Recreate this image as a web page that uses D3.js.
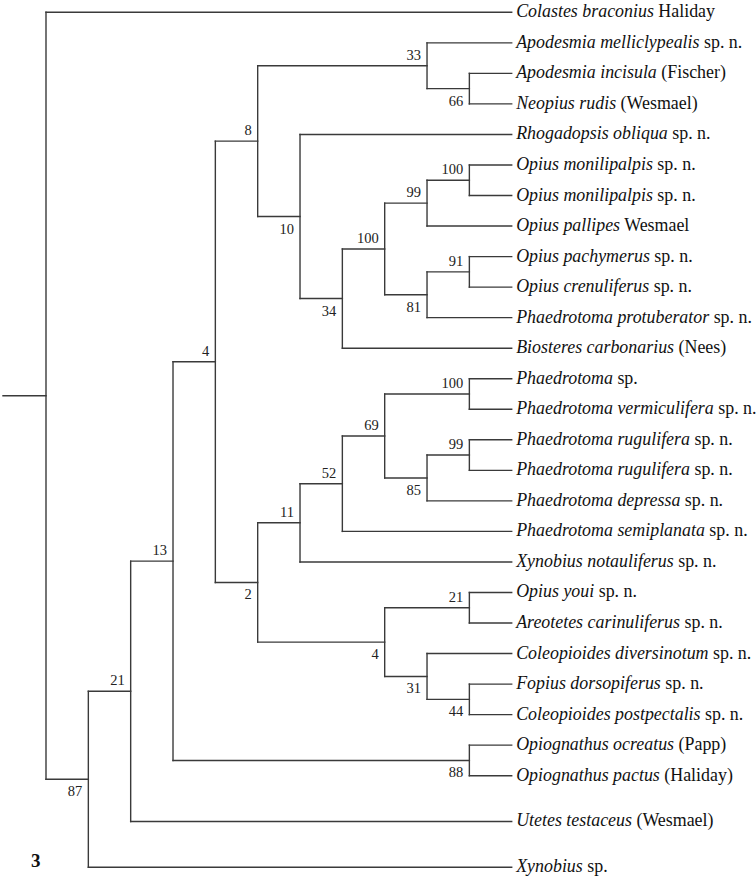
<!DOCTYPE html>
<html>
<head>
<meta charset="utf-8">
<script src="https://cdn.jsdelivr.net/npm/d3@7"></script>
<style>
  html, body { margin: 0; padding: 0; background: #fff; }
  svg { display: block; }
</style>
</head>
<body>
<svg id="chart" width="756" height="879"></svg>
<script>
// Leaf labels in tree order: [italic name, roman authority]
const leafNames = [
  ["Colastes braconius", "Haliday"],
  ["Apodesmia melliclypealis", "sp. n."],
  ["Apodesmia incisula", "(Fischer)"],
  ["Neopius rudis", "(Wesmael)"],
  ["Rhogadopsis obliqua", "sp. n."],
  ["Opius monilipalpis", "sp. n."],
  ["Opius monilipalpis", "sp. n."],
  ["Opius pallipes", "Wesmael"],
  ["Opius pachymerus", "sp. n."],
  ["Opius crenuliferus", "sp. n."],
  ["Phaedrotoma protuberator", "sp. n."],
  ["Biosteres carbonarius", "(Nees)"],
  ["Phaedrotoma", "sp."],
  ["Phaedrotoma vermiculifera", "sp. n."],
  ["Phaedrotoma rugulifera", "sp. n."],
  ["Phaedrotoma rugulifera", "sp. n."],
  ["Phaedrotoma depressa", "sp. n."],
  ["Phaedrotoma semiplanata", "sp. n."],
  ["Xynobius notauliferus", "sp. n."],
  ["Opius youi", "sp. n."],
  ["Areotetes carinuliferus", "sp. n."],
  ["Coleopioides diversinotum", "sp. n."],
  ["Fopius dorsopiferus", "sp. n."],
  ["Coleopioides postpectalis", "sp. n."],
  ["Opiognathus ocreatus", "(Papp)"],
  ["Opiognathus pactus", "(Haliday)"],
  ["Utetes testaceus", "(Wesmael)"],
  ["Xynobius", "sp."]
];

// Topology (Newick) with leaf indices and bootstrap support values
const cladeA = "((1,(2,3)66)33,(4,((((5,6)100,7)99,((8,9)91,10)81)100,11)34)10)8";
const cladeB = "(((((12,13)100,((14,15)99,16)85)69,17)52,18)11,((19,20)21,(21,(22,23)44)31)4)2";
const newick = "(0,((((" + cladeA + "," + cladeB + ")4,(24,25)88)13,26)21,27)87);";

const figureLabel = "3";

// ---- parse Newick ----
function parseNewick(s) {
  let i = 0;
  function node() {
    const n = {};
    if (s[i] === "(") {
      i++;
      n.children = [];
      n.children.push(node());
      while (s[i] === ",") { i++; n.children.push(node()); }
      i++; // ')'
      let lab = "";
      while (i < s.length && /[0-9]/.test(s[i])) lab += s[i++];
      if (lab) n.support = +lab;
    } else {
      let lab = "";
      while (i < s.length && /[0-9]/.test(s[i])) lab += s[i++];
      n.leaf = +lab;
      n.name = leafNames[+lab];
    }
    return n;
  }
  return node();
}

const data = parseNewick(newick);
const root = d3.hierarchy(data);

const cluster = d3.cluster()
  .nodeSize([1, 1])
  .separation((a, b) => (a.depth <= 3 ? 1.5 : 1));
cluster(root);

const leaves = root.leaves();
const xScale = d3.scaleLinear()
  .domain([0, d3.max(root.descendants(), d => d.y)])
  .range([46, 511.7]);
const yScale = d3.scaleLinear()
  .domain(d3.extent(leaves, d => d.x))
  .range([12.3, 867.3]);

const svg = d3.select("#chart");
const lineColor = "#3a3a3a";
const g = svg.append("g")
  .attr("fill", "none")
  .attr("stroke", lineColor)
  .attr("stroke-width", 1.4)
  .attr("stroke-linecap", "square");

// root stub
g.append("line")
  .attr("x1", 3).attr("x2", xScale(root.y))
  .attr("y1", yScale(root.x)).attr("y2", yScale(root.x));

root.descendants().filter(d => d.children).forEach(d => {
  const c = d.children;
  g.append("line")
    .attr("x1", xScale(d.y)).attr("x2", xScale(d.y))
    .attr("y1", yScale(c[0].x)).attr("y2", yScale(c[c.length - 1].x));
  c.forEach(ch => {
    g.append("line")
      .attr("x1", xScale(d.y)).attr("x2", xScale(ch.y))
      .attr("y1", yScale(ch.x)).attr("y2", yScale(ch.x));
  });
});

const serif = "'Liberation Serif', 'Times New Roman', 'DejaVu Serif', serif";

// leaf labels
const lab = svg.append("g")
  .attr("font-family", serif)
  .attr("font-size", 17.9)
  .attr("fill", "#111");
leaves.forEach(d => {
  const t = lab.append("text")
    .attr("x", xScale(d.y) + 4.5)
    .attr("y", yScale(d.x) + 5);
  t.append("tspan").attr("font-style", "italic").text(d.data.name[0]);
  t.append("tspan").text(" " + d.data.name[1]);
});

// support values: above if first child, below if last child
const sup = svg.append("g")
  .attr("font-family", serif)
  .attr("font-size", 14.5)
  .attr("fill", "#222")
  .attr("text-anchor", "end");
root.descendants().filter(d => d.data.support !== undefined).forEach(d => {
  const first = d.parent && d.parent.children[0] === d;
  sup.append("text")
    .attr("x", xScale(d.y) - 6)
    .attr("y", yScale(d.x) + (first ? -6 : 17))
    .text(d.data.support);
});

// figure number
svg.append("text")
  .attr("x", 31)
  .attr("y", 867)
  .attr("font-family", serif)
  .attr("font-size", 19)
  .attr("font-weight", "bold")
  .attr("fill", "#111")
  .text(figureLabel);
</script>
</body>
</html>
